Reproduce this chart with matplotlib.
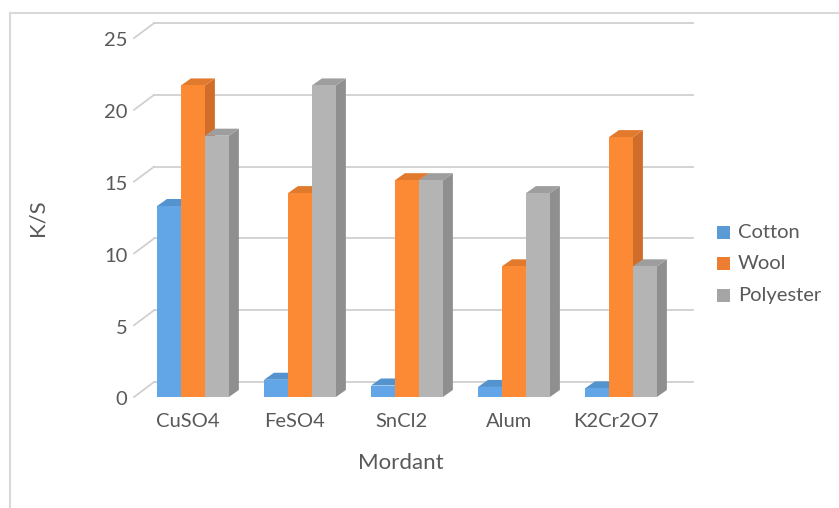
import matplotlib.pyplot as plt
from matplotlib.patches import Polygon
from matplotlib.lines import Line2D

plt.rcParams['font.family'] = ['Lato', 'DejaVu Sans']

# Data
# ----
mordants = ['CuSO4', 'FeSO4', 'SnCl2', 'Alum', 'K2Cr2O7']
series = ['Cotton', 'Wool', 'Polyester']
cotton = [13.3, 1.2, 0.8, 0.7, 0.6]
wool = [21.7, 14.2, 15.1, 9.1, 18.1]
polyester = [18.2, 21.7, 15.1, 14.2, 9.1]
yticks = [0, 5, 10, 15, 20, 25]

values = [cotton, wool, polyester]
front = ['#62a6e8', '#fc8a34', '#b4b4b4']
top = ['#5593cf', '#e27a2e', '#9e9e9e']
side = ['#4f86ba', '#d16d2b', '#8f8f8f']
legend_col = ['#5b9bd5', '#ed7d31', '#a5a5a5']

W, H = 839, 508
fig = plt.figure(figsize=(W / 100, H / 100), dpi=100)

# chart border (partial, like the screenshot crop)
fig.add_artist(Line2D([10 / W, 1], [1 - 13 / H, 1 - 13 / H], color='#d9d9d9', lw=1.5))
fig.add_artist(Line2D([10 / W, 10 / W], [0, 1 - 13 / H], color='#d9d9d9', lw=1.5))

# axes = front plane, pixel box 134..693 x 23..397
ax = fig.add_axes([134 / W, 1 - 397 / H, (693 - 134) / W, (397 - 23) / H])
xmin, xmax = -0.551, 4.673
ymin, ymax = 0, 26.05
ax.set_xlim(xmin, xmax)
ax.set_ylim(ymin, ymax)
ax.axis('off')

# depth offsets (data units)
wdx, wdy = 0.187, 1.04   # back wall
bdx, bdy = 0.093, 0.49   # bar depth
bw = 0.224

# gridlines on back wall + diagonal ticks
for v in yticks:
    ax.plot([xmin + wdx, xmax], [v + wdy, v + wdy], color='#d0d0d0', lw=1.3,
            clip_on=False, zorder=1)
    ax.plot([xmin, xmin + wdx], [v, v + wdy], color='#d0d0d0', lw=1.3,
            clip_on=False, zorder=1)
    ax.text(xmin - 0.06, v - 0.2, str(v), ha='right', va='center', fontsize=14.5,
            color='#595959')

# 3D-ish bars
z = 2
for i in range(len(mordants)):
    for j in range(len(series)):
        h = values[j][i]
        x0 = i + (j - 1.5) * bw
        x1 = x0 + bw
        ax.add_patch(Polygon([(x1, 0), (x1 + bdx, bdy), (x1 + bdx, h + bdy), (x1, h)],
                             closed=True, fc=side[j], ec='none', zorder=z))
        ax.add_patch(Polygon([(x0, h), (x0 + bdx, h + bdy), (x1 + bdx, h + bdy), (x1, h)],
                             closed=True, fc=top[j], ec='none', zorder=z))
        ax.add_patch(Polygon([(x0, 0), (x1, 0), (x1, h), (x0, h)],
                             closed=True, fc=front[j], ec='none', zorder=z))
        z += 1

for i, m in enumerate(mordants):
    ax.text(i - 0.05, -1.7, m, ha='center', va='center', fontsize=14.5, color='#595959')

ax.text(2.0 - 0.06, -4.6, 'Mordant', ha='center', va='center', fontsize=16,
        color='#595959')
fig.text(38 / W, 1 - 218 / H, 'K/S', rotation=90, ha='center', va='center',
         fontsize=16, color='#595959')

# legend
for j, s in enumerate(series):
    yc = 232 + 31.5 * j
    fig.patches.append(plt.Rectangle((717 / W, 1 - (yc + 6.5) / H), 13 / W, 13 / H,
                                     transform=fig.transFigure, fc=legend_col[j],
                                     ec='none'))
    fig.text(738 / W, 1 - yc / H, s, ha='left', va='center', fontsize=14.5,
             color='#595959')

plt.savefig('out.png', dpi=100)
